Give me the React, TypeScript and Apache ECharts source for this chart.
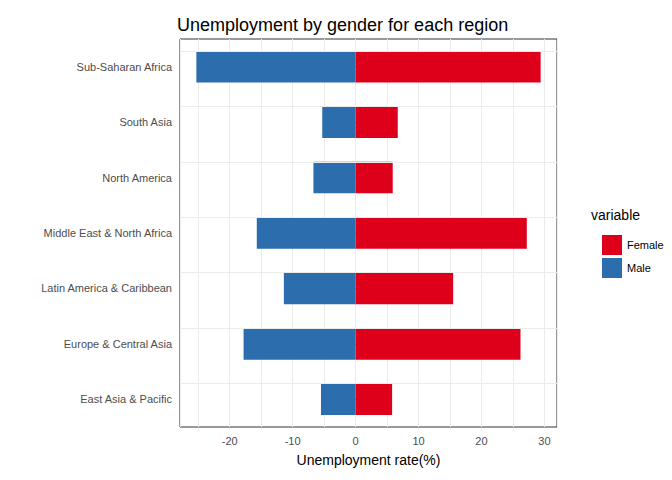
import React, { useEffect, useRef } from "react";
import * as echarts from "echarts";

const categories = ["East Asia & Pacific", "Europe & Central Asia", "Latin America & Caribbean", "Middle East & North Africa", "North America", "South Asia", "Sub-Saharan Africa"];
const female = [5.8, 26.2, 15.5, 27.2, 5.9, 6.7, 29.4];
const male = [-5.5, -17.8, -11.4, -15.7, -6.7, -5.3, -25.3];

export default function App() {
  const ref = useRef<HTMLDivElement>(null);
  useEffect(() => {
    const chart = echarts.init(ref.current!, null, { renderer: "svg" });
    const font = "Liberation Sans";
    chart.setOption({
      animation: false,
      textStyle: { fontFamily: font },
      title: { text: "Unemployment by gender for each region", left: 164, top: 3, textStyle: { fontSize: 18, fontWeight: "normal", color: "#000", fontFamily: font } },
      grid: { left: 172, right: 107, top: 31, bottom: 43, show: true, borderColor: "#333", borderWidth: 1, backgroundColor: "#fff" },
      legend: {
        orient: "vertical", left: 589, top: 222, itemWidth: 20, itemHeight: 20, itemGap: 3, icon: "rect",
        data: ["Female", "Male"], textStyle: { fontSize: 11, color: "#000", fontFamily: font },
      },
      graphic: [{ type: "text", left: 583, top: 200, style: { text: "variable", fontSize: 14, fill: "#000", fontFamily: font } }],
      xAxis: {
        type: "value", min: -27.9, max: 32, splitNumber: 12,
        name: "Unemployment rate(%)", nameLocation: "middle", nameGap: 26, nameTextStyle: { fontSize: 14, color: "#000" },
        axisLine: { show: false }, axisTick: { show: false },
        axisLabel: { fontSize: 11, color: "#4d4d4d", formatter: (v: number) => (Math.abs(v % 10) < 1e-6 ? String(Math.round(v)) : "") },
        splitLine: { lineStyle: { color: "#ebebeb", width: 1 } },
      },
      yAxis: {
        type: "category", data: categories,
        axisLine: { show: false }, axisTick: { show: true, alignWithLabel: true, lineStyle: { color: "#333" } },
        axisLabel: { fontSize: 11, color: "#4d4d4d" },
        splitLine: { show: false },
      },
      series: [
        {
          type: "bar", name: "grid", data: [], silent: true, z: 0,
          markLine: { silent: true, symbol: "none", label: { show: false }, lineStyle: { color: "#ebebeb", width: 1.2, type: "solid" }, data: categories.map((c) => ({ yAxis: c })) },
        },
        { type: "bar", name: "Female", stack: "a", data: female, barWidth: "57%", itemStyle: { color: "#de001b" } },
        { type: "bar", name: "Male", stack: "a", data: male, barWidth: "57%", itemStyle: { color: "#2c6dad" } },
      ],
    });
    return () => chart.dispose();
  }, []);
  return <div ref={ref} style={{ width: 656, height: 464 }} />;
}
